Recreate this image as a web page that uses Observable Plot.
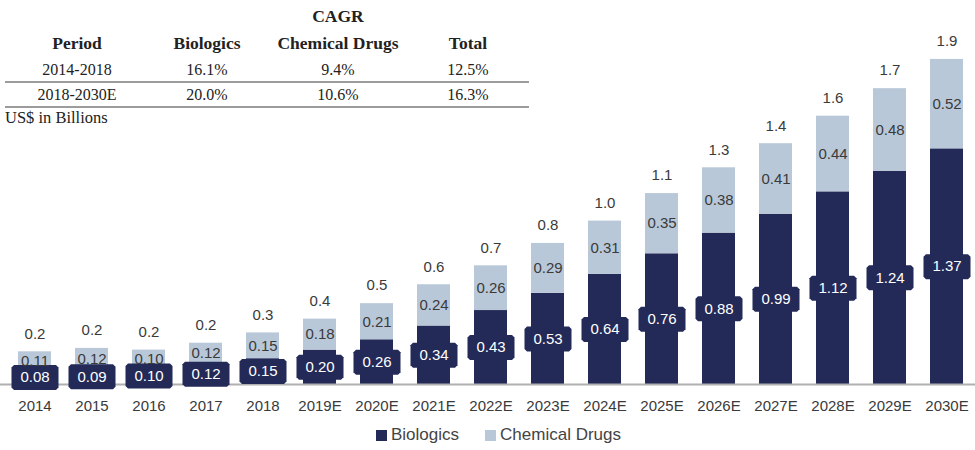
<!DOCTYPE html>
<html><head><meta charset="utf-8">
<script src="https://cdn.jsdelivr.net/npm/d3@7"></script>
<script src="https://cdn.jsdelivr.net/npm/@observablehq/plot@0.6"></script>
<style>
body{margin:0;background:#fff;}
#wrap{position:relative;width:975px;height:450px;overflow:hidden;}
#chart svg{display:block;}
#table{position:absolute;left:0;top:0;width:540px;height:130px;font-family:"Liberation Serif","Times New Roman",serif;font-size:16px;color:#222;}
.cell{position:absolute;transform:translate(-50%,-50%);white-space:nowrap;line-height:1;}
.bold{font-weight:bold;font-size:17.5px;}
.hline{position:absolute;left:5px;width:524px;height:2px;background:#9c9c9c;}
#legend{position:absolute;left:0;top:420px;width:975px;height:30px;display:flex;justify-content:center;align-items:center;gap:26px;padding-left:22px;box-sizing:border-box;font-family:"Liberation Sans",Arial,sans-serif;font-size:17px;color:#444;}
#legend .item{display:flex;align-items:center;gap:4px;}
#legend .sw{width:11px;height:11px;display:inline-block;}
</style></head>
<body>
<div id="wrap">
  <div id="chart"></div>
  <div id="table"></div>
  <div id="legend"></div>
</div>
<script>
// ---- data ----
const years = ["2014","2015","2016","2017","2018","2019E","2020E","2021E","2022E","2023E","2024E","2025E","2026E","2027E","2028E","2029E","2030E"];
const biologics = [0.08,0.09,0.10,0.12,0.15,0.20,0.26,0.34,0.43,0.53,0.64,0.76,0.88,0.99,1.12,1.24,1.37];
const chemical  = [0.11,0.12,0.10,0.12,0.15,0.18,0.21,0.24,0.26,0.29,0.31,0.35,0.38,0.41,0.44,0.48,0.52];
const totalLabels = ["0.2","0.2","0.2","0.2","0.3","0.4","0.5","0.6","0.7","0.8","1.0","1.1","1.3","1.4","1.6","1.7","1.9"];
const seriesNames = ["Biologics","Chemical Drugs"];
const seriesColors = ["#232a58","#b9c8d8"];

const cagrPeriods = ["2014-2018","2018-2030E"];
const cagrBiologics = ["16.1%","20.0%"];
const cagrChemical = ["9.4%","10.6%"];
const cagrTotal = ["12.5%","16.3%"];
const tableHeaders = ["Period","Biologics","Chemical Drugs","Total"];
const tableTitle = "CAGR";
const unitNote = "US$ in Billions";

// ---- build rows ----
const rows = years.flatMap((y, i) => [
  {year: y, series: seriesNames[0], value: biologics[i], mid: biologics[i] / 2},
  {year: y, series: seriesNames[1], value: chemical[i], mid: biologics[i] + chemical[i] / 2}
]);
const bioRows = rows.filter(d => d.series === seriesNames[0]);
const chemRows = rows.filter(d => d.series === seriesNames[1]);
const totals = years.map((y, i) => ({year: y, total: biologics[i] + chemical[i], label: totalLabels[i]}));

const boxSymbol = {
  draw(ctx) {
    const w = 23.5, h = 12.5, c = 2.5;
    ctx.moveTo(-w + c, -h);
    ctx.lineTo(w - c, -h);
    ctx.lineTo(w, -h + c);
    ctx.lineTo(w, h - c);
    ctx.lineTo(w - c, h);
    ctx.lineTo(-w + c, h);
    ctx.lineTo(-w, h - c);
    ctx.lineTo(-w, -h + c);
    ctx.closePath();
  }
};

const chart = Plot.plot({
  width: 975,
  height: 420,
  marginLeft: 0, marginRight: 0, marginTop: 0, marginBottom: 36,
  x: {domain: years, range: [0, 980], paddingInner: 0.428, paddingOuter: 0.206, label: null},
  y: {domain: [0, 2], range: [384, 40], axis: null},
  color: {domain: seriesNames, range: seriesColors},
  style: {fontFamily: "'Liberation Sans', Arial, sans-serif", fontSize: "15px", background: "transparent", overflow: "visible"},
  marks: [
    Plot.barY(rows, {x: "year", y: "value", fill: "series", z: "series"}),
    Plot.ruleY([0], {stroke: "#b0b0b0", strokeWidth: 2}),
    Plot.axisX({tickSize: 0, tickPadding: 16, fontSize: 15, color: "#3a3a3a", label: null}),
    Plot.dot(bioRows, {x: "year", y: "mid", symbol: boxSymbol, r: 10, fill: seriesColors[0], stroke: "none"}),
    Plot.text(bioRows, {x: "year", y: "mid", text: d => d.value.toFixed(2), fill: "#fff", fontSize: 15}),
    Plot.text(chemRows, {x: "year", y: "mid", text: d => d.value.toFixed(2), fill: "#3a3a3a", fontSize: 15}),
    Plot.text(totals, {x: "year", y: "total", text: "label", dy: -18, fill: "#3a3a3a", fontSize: 15})
  ]
});
document.getElementById("chart").appendChild(chart);

// ---- CAGR table (HTML overlay) ----
const table = document.getElementById("table");
const colX = [77, 207, 338, 468];
function cell(txt, x, y, bold) {
  const d = document.createElement("div");
  d.className = "cell" + (bold ? " bold" : "");
  d.textContent = txt;
  d.style.left = x + "px";
  d.style.top = y + "px";
  table.appendChild(d);
}
cell(tableTitle, colX[2], 17, true);
tableHeaders.forEach((h, j) => cell(h, colX[j], 44, true));
const rowY = [70, 95];
cagrPeriods.forEach((p, i) => {
  cell(p, colX[0], rowY[i]);
  cell(cagrBiologics[i], colX[1], rowY[i]);
  cell(cagrChemical[i], colX[2], rowY[i]);
  cell(cagrTotal[i], colX[3], rowY[i]);
});
[81, 106].forEach(y => {
  const l = document.createElement("div");
  l.className = "hline";
  l.style.top = y + "px";
  table.appendChild(l);
});
const note = document.createElement("div");
note.textContent = unitNote;
note.style.cssText = "position:absolute;left:5px;top:110px;line-height:1;white-space:nowrap;font-size:16.5px;";
table.appendChild(note);

// ---- legend ----
const legend = document.getElementById("legend");
seriesNames.forEach((s, i) => {
  const it = document.createElement("div");
  it.className = "item";
  const sw = document.createElement("span");
  sw.className = "sw";
  sw.style.background = seriesColors[i];
  const t = document.createElement("span");
  t.textContent = s;
  it.appendChild(sw); it.appendChild(t);
  legend.appendChild(it);
});
</script>
</body></html>
